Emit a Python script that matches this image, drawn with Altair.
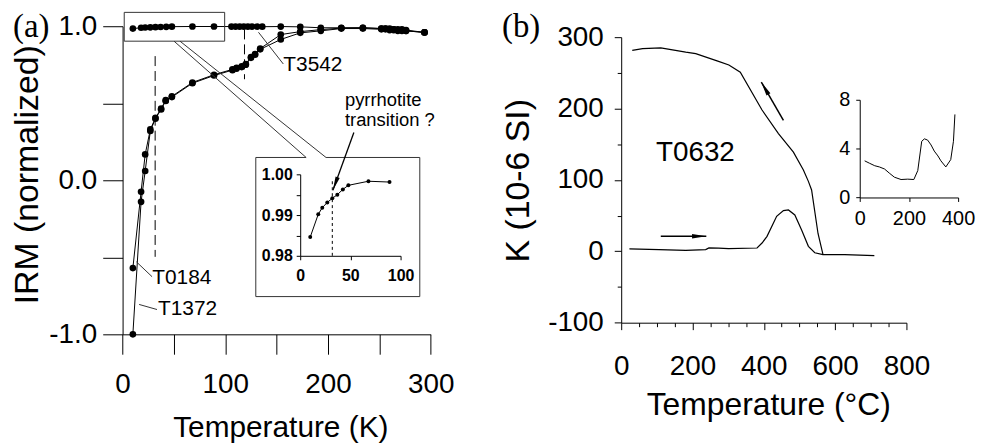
import altair as alt
import pandas as pd

FONT = "Liberation Sans"
SERIF = "Liberation Serif"
H = 435

# ---------------- Panel (a): IRM vs temperature ----------------
inset_t = [10, 18, 22, 27, 32, 37, 42.5, 48, 68, 89]
inset_irm = [0.9846, 0.9902, 0.9918, 0.9931, 0.9941, 0.9950, 0.9963, 0.9973, 0.9983, 0.9981]

t3542_t = inset_t + [106, 110, 114, 118, 122, 126, 131, 136, 154, 173, 193, 213, 234,
                     252, 256, 260, 264, 268, 272, 276, 294]
t3542_v = inset_irm + [0.998, 0.998, 0.998, 0.998, 0.998, 0.998, 0.998, 0.997, 0.998, 0.996,
                       0.99, 0.99, 0.99, 0.985, 0.985, 0.985, 0.98, 0.98, 0.98, 0.975, 0.96]

low_t = [10, 18, 22, 27, 32, 37.5, 42, 48, 68, 89, 107, 111, 116, 120, 125, 129, 134,
         154, 173, 193, 213, 234, 252, 256, 260, 264, 268, 272, 276, 294]
t0184_v = [-0.57, -0.075, 0.168, 0.33, 0.405, 0.465, 0.52, 0.545, 0.635, 0.685, 0.72, 0.73,
           0.74, 0.755, 0.80, 0.82, 0.855, 0.946, 0.965, 0.978, 0.988, 0.99, 0.985, 0.985,
           0.98, 0.98, 0.975, 0.975, 0.97, 0.96]
t1372_v = [-1.0, -0.14, 0.06, 0.32, 0.40, 0.46, 0.515, 0.54, 0.63, 0.68, 0.715, 0.725,
           0.735, 0.75, 0.795, 0.815, 0.85, 0.914, 0.957, 0.97, 0.985, 0.985, 0.98, 0.98,
           0.975, 0.975, 0.97, 0.97, 0.97, 0.96]

# annotation segments of panel (a) (zoom box, callout, inset frame, leaders)
seg_x = [1.6, 1.6, 1.6, 99.4, 50.1, 55.9, 129.7, 198.1, 129.7, 129.7, 289.4, 13.4, 16.1, 132.3]
seg_x2 = [99.4, 99.4, 1.6, 99.4, 178.7, 198.1, 178.7, 289.4, 289.4, 129.7, 289.4, 28.7, 33.5, 156.5]
seg_y = [1.090, 0.903, 0.903, 0.903, 0.903, 0.903, 0.148, 0.148, -0.755, 0.148, 0.148, -0.529, -0.806, 0.961]
seg_y2 = [1.090, 0.903, 1.090, 1.090, 0.148, 0.148, 0.148, 0.148, -0.755, -0.755, -0.755, -0.626, -0.839, 0.755]

dash_x = [31.7, 118.7]
dash_y = [0.806, 0.979]
dash_y2 = [-0.497, 0.656]

lab_a_text = ["T0184", "T1372", "T3542", "pyrrhotite", "transition ?"]
lab_a_x = [28.9, 34.5, 156.5, 216.5, 216.5]
lab_a_y = [-0.632, -0.839, 0.748, 0.52, 0.39]
lab_a_fs = [21, 21, 21, 18.5, 18.5]

# ---------------- Panel (b): susceptibility vs temperature ----------------
heat_t = [23, 106, 181, 237, 246, 273, 301, 381, 395, 409, 436, 455, 469, 487, 506, 525, 543, 566, 627, 710]
heat_k = [3.4, 2.4, 1.4, 2.4, 4.7, 4.6, 3.7, 4.6, 11.6, 21, 49, 57, 58, 51, 30, 7, -2, -4.6, -4.6, -6]
cool_t = [31, 60, 111, 181, 209, 273, 302, 334, 395, 441, 483, 511, 525, 534, 552, 566]
cool_k = [281.5, 284, 285, 279, 277, 266, 261, 251, 198, 165, 139, 114, 98, 86, 25, -4.6]

binset_t = [20, 40, 61, 80, 101, 120, 141, 168, 195, 220, 236, 252, 263, 276, 290, 303, 318, 330, 350, 370, 381, 387]
binset_k = [3.0, 2.8, 2.6, 2.5, 2.33, 2.0, 1.66, 1.47, 1.5, 1.47, 2.2, 4.6, 4.8, 4.7, 4.3, 3.8, 3.4, 3.0, 2.5, 3.1, 4.6, 6.8]

arrow_b_x = [111, 455]
arrow_b_x2 = [238.7, 393]
arrow_b_y = [21, 183.6]
arrow_b_y2 = [21, 237]
arrow_b_angle = [90, 330]

ARROW = "M0,0L0.35,2.2L-0.35,2.2Z"

# ---------------- scales ----------------
xA = alt.Scale(domain=[0, 300], range=[115.3, 425.3], nice=False, zero=False)
yA = alt.Scale(domain=[-1, 1], range=[327, 17], nice=False, zero=False)
xAi = alt.Scale(domain=[0, 100], range=[294, 395], nice=False, zero=False)
yAi = alt.Scale(domain=[0.98, 1.0], range=[248, 166], nice=False, zero=False)
xB = alt.Scale(domain=[0, 800], range=[617, 904], nice=False, zero=False)
yB = alt.Scale(domain=[-100, 300], range=[315.3, 28], nice=False, zero=False)
xBi = alt.Scale(domain=[0, 400], range=[857, 956], nice=False, zero=False)
yBi = alt.Scale(domain=[0, 8], range=[189.3, 91], nice=False, zero=False)

axA_x = alt.Axis(orient="bottom", offset=327 - H, values=list(range(0, 301, 50)),
                 labelExpr="datum.value % 100 === 0 ? datum.label : ''",
                 tickSize=20, labelPadding=17, labelFontSize=28,
                 title="Temperature (K)", titleFontSize=30, titleX=274, titleY=103,
                 titleBaseline="alphabetic")
axA_y = alt.Axis(orient="left", offset=-115.3, values=[-1, -0.5, 0, 0.5, 1],
                 labelExpr="datum.value == 1 ? '1.0' : datum.value == 0 ? '0.0' : datum.value == -1 ? '-1.0' : ''",
                 tickSize=20, labelPadding=6, labelFontSize=28,
                 title="IRM (normalized)", titleFontSize=34, titleX=-86, titleY=166,
                 titleBaseline="alphabetic")
axAi_x = alt.Axis(orient="bottom", offset=248 - H, values=[0, 50, 100], tickSize=4,
                  labelPadding=8, labelFontSize=16, labelFontWeight="bold", title=None)
axAi_y = alt.Axis(orient="left", offset=-294, values=[0.98, 0.985, 0.99, 0.995, 1.0],
                  labelExpr="(datum.value == 0.985 || datum.value == 0.995) ? '' : format(datum.value, '.2f')",
                  tickSize=4, labelPadding=4, labelFontSize=16, labelFontWeight="bold", title=None)
axB_x = alt.Axis(orient="bottom", offset=315.3 - H, values=list(range(0, 801, 50)),
                 labelExpr="datum.value % 200 === 0 ? datum.label : ''",
                 tickSize={"condition": {"test": "datum.value % 200 === 0", "value": 7}, "value": 4},
                 labelPadding=23, labelFontSize=28,
                 title="Temperature (°C)", titleFontSize=32, titleX=765, titleY=92,
                 titleBaseline="alphabetic")
axB_y = alt.Axis(orient="left", offset=-617, values=list(range(-100, 301, 50)),
                 labelExpr="datum.value % 100 !== 0 ? '' : (datum.value < 0 ? '-' + (-datum.value) : '' + datum.value)",
                 tickSize={"condition": {"test": "datum.value % 100 === 0", "value": 7}, "value": 4},
                 labelPadding=11, labelFontSize=28,
                 title="K (10-6 SI)", titleFontSize=34, titleX=-93, titleY=172,
                 titleBaseline="alphabetic")
axBi_x = alt.Axis(orient="bottom", offset=189.3 - H, values=[0, 200, 400], tickSize=4,
                  labelPadding=7, labelFontSize=20, title=None)
axBi_y = alt.Axis(orient="left", offset=-857, values=[0, 4, 8], tickSize=4,
                  labelPadding=6, labelFontSize=20, title=None)


def pos(xf, yf, xs, ys, xa=None, ya=None, **extra):
    enc = dict(x=alt.X(xf, scale=xs, axis=xa), y=alt.Y(yf, scale=ys, axis=ya))
    enc.update(extra)
    return enc


charts = []

# ---------------- panel (a) main ----------------
df_a = pd.DataFrame({
    "T": t3542_t + low_t + low_t,
    "IRM": t3542_v + t0184_v + t1372_v,
    "sample": ["T3542"] * len(t3542_t) + ["T0184"] * len(low_t) + ["T1372"] * len(low_t),
})
charts.append(alt.Chart(df_a).mark_line(color="black", strokeWidth=1).encode(
    **pos("T:Q", "IRM:Q", xA, yA, axA_x, axA_y, detail="sample:N")))
charts.append(alt.Chart(df_a).mark_circle(color="black", size=45, opacity=1).encode(
    **pos("T:Q", "IRM:Q", xA, yA)))

df_seg = pd.DataFrame({"x": seg_x, "x2": seg_x2, "y": seg_y, "y2": seg_y2})
charts.append(alt.Chart(df_seg).mark_rule(color="#333333", strokeWidth=1).encode(
    **pos("x:Q", "y:Q", xA, yA, x2="x2:Q", y2="y2:Q")))

df_dash = pd.DataFrame({"x": dash_x, "y": dash_y, "y2": dash_y2})
charts.append(alt.Chart(df_dash).mark_rule(color="black", strokeWidth=1, strokeDash=[10, 5]).encode(
    **pos("x:Q", "y:Q", xA, yA, y2="y2:Q")))

df_lab = pd.DataFrame({"t": lab_a_text, "x": lab_a_x, "y": lab_a_y, "fs": lab_a_fs})
charts.append(alt.Chart(df_lab).mark_text(align="left", baseline="middle", font=FONT, color="black").encode(
    **pos("x:Q", "y:Q", xA, yA, text="t:N", size=alt.Size("fs:Q", scale=None))))

df_ta = pd.DataFrame({"t": ["(a)"], "x": [-106.7], "y": [0.932]})
charts.append(alt.Chart(df_ta).mark_text(align="left", baseline="alphabetic", font=SERIF, fontSize=33, color="black").encode(
    **pos("x:Q", "y:Q", xA, yA, text="t:N")))

df_arr_a = pd.DataFrame({"x": [225.2], "x2": [204.8], "y": [0.31], "y2": [-0.065], "ang": [200]})
charts.append(alt.Chart(df_arr_a).mark_rule(color="black", strokeWidth=1.3).encode(
    **pos("x:Q", "y:Q", xA, yA, x2="x2:Q", y2="y2:Q")))
charts.append(alt.Chart(df_arr_a).mark_point(shape=ARROW, filled=True, color="black", size=160, opacity=1, strokeWidth=0).encode(
    **pos("x2:Q", "y2:Q", xA, yA, angle=alt.Angle("ang:Q", scale=None))))

# ---------------- panel (a) inset ----------------
df_ai = pd.DataFrame({"T": inset_t, "IRM": inset_irm})
charts.append(alt.Chart(df_ai).mark_line(color="black", strokeWidth=1).encode(
    **pos("T:Q", "IRM:Q", xAi, yAi, axAi_x, axAi_y)))
charts.append(alt.Chart(df_ai).mark_circle(color="black", size=16, opacity=1).encode(
    **pos("T:Q", "IRM:Q", xAi, yAi)))
df_aid = pd.DataFrame({"x": [32], "y": [0.98], "y2": [0.9985]})
charts.append(alt.Chart(df_aid).mark_rule(color="black", strokeWidth=1, strokeDash=[3, 3]).encode(
    **pos("x:Q", "y:Q", xAi, yAi, y2="y2:Q")))

# ---------------- panel (b) main ----------------
df_b = pd.DataFrame({
    "T": heat_t + cool_t,
    "K": heat_k + cool_k,
    "run": ["heating"] * len(heat_t) + ["cooling"] * len(cool_t),
})
charts.append(alt.Chart(df_b).mark_line(color="black", strokeWidth=1.2).encode(
    **pos("T:Q", "K:Q", xB, yB, axB_x, axB_y, detail="run:N")))
df_arr_b = pd.DataFrame({"x": arrow_b_x, "x2": arrow_b_x2, "y": arrow_b_y, "y2": arrow_b_y2,
                         "ang": arrow_b_angle})
charts.append(alt.Chart(df_arr_b).mark_rule(color="black", strokeWidth=1.5).encode(
    **pos("x:Q", "y:Q", xB, yB, x2="x2:Q", y2="y2:Q")))
charts.append(alt.Chart(df_arr_b).mark_point(shape=ARROW, filled=True, color="black", size=170, opacity=1, strokeWidth=0).encode(
    **pos("x2:Q", "y2:Q", xB, yB, angle=alt.Angle("ang:Q", scale=None))))
df_tb = pd.DataFrame({"t": ["T0632"], "x": [97.5], "y": [137.6]})
charts.append(alt.Chart(df_tb).mark_text(align="left", baseline="middle", font=FONT, fontSize=28, color="black").encode(
    **pos("x:Q", "y:Q", xB, yB, text="t:N")))
df_tg = pd.DataFrame({"t": ["(b)"], "x": [-334.3], "y": [300.6]})
charts.append(alt.Chart(df_tg).mark_text(align="left", baseline="alphabetic", font=SERIF, fontSize=33, color="black").encode(
    **pos("x:Q", "y:Q", xB, yB, text="t:N")))

# ---------------- panel (b) inset ----------------
df_bi = pd.DataFrame({"T": binset_t, "K": binset_k})
charts.append(alt.Chart(df_bi).mark_line(color="black", strokeWidth=1).encode(
    **pos("T:Q", "K:Q", xBi, yBi, axBi_x, axBi_y)))

chart = alt.layer(*charts).resolve_scale(
    x="independent", y="independent"
).properties(
    width=975, height=H, padding=0, autosize=alt.AutoSizeParams(type="none")
).configure_view(stroke=None).configure_axis(
    grid=False, labelFont=FONT, titleFont=FONT, labelColor="black", titleColor="black",
    domainColor="black", tickColor="black", titleFontWeight="normal",
    labelFlush=False, labelOverlap=False, domainWidth=1, tickWidth=1,
)

chart.save("out.html", embed_options={"renderer": "svg", "actions": False})
